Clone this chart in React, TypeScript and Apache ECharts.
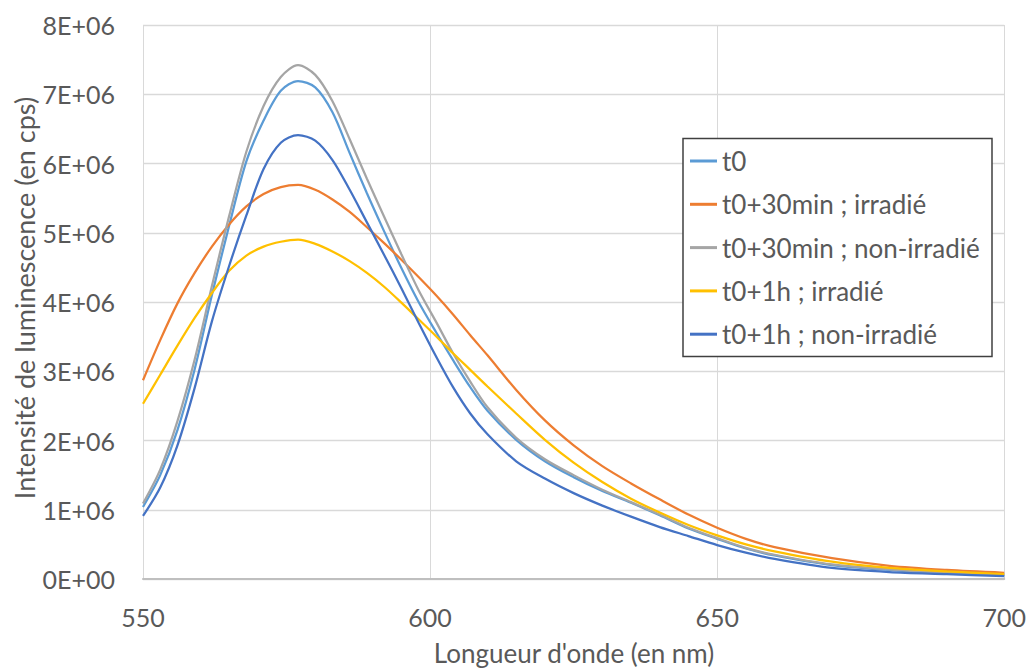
import React, { useEffect, useRef } from "react";
import * as echarts from "echarts";

const wavelengths = [550, 553, 556, 559, 562, 565, 568, 571, 574, 577, 580, 583, 586, 589, 592, 595, 598, 601, 604, 607, 610, 615, 620, 625, 630, 635, 640, 645, 650, 655, 660, 670, 680, 690, 700];

// values in units of 1E+06 cps
const t0 = [1.04, 1.50, 2.15, 3.03, 4.10, 5.10, 6.03, 6.62, 7.05, 7.19, 7.10, 6.74, 6.15, 5.57, 5.02, 4.49, 4.00, 3.57, 3.16, 2.77, 2.43, 2.01, 1.70, 1.47, 1.27, 1.10, 0.92, 0.73, 0.58, 0.44, 0.34, 0.20, 0.13, 0.08, 0.06];
const t30Irr = [2.87, 3.45, 3.98, 4.42, 4.80, 5.12, 5.38, 5.56, 5.66, 5.69, 5.62, 5.48, 5.30, 5.08, 4.85, 4.61, 4.36, 4.10, 3.82, 3.52, 3.23, 2.73, 2.29, 1.93, 1.63, 1.38, 1.15, 0.93, 0.74, 0.58, 0.46, 0.30, 0.19, 0.13, 0.09];
const t30NonIrr = [1.09, 1.58, 2.28, 3.17, 4.23, 5.24, 6.17, 6.83, 7.25, 7.42, 7.28, 6.90, 6.35, 5.78, 5.23, 4.69, 4.17, 3.72, 3.26, 2.85, 2.48, 2.04, 1.73, 1.50, 1.29, 1.11, 0.93, 0.74, 0.59, 0.45, 0.35, 0.21, 0.14, 0.09, 0.06];
const t1hIrr = [2.53, 2.95, 3.37, 3.77, 4.13, 4.45, 4.67, 4.80, 4.87, 4.90, 4.84, 4.73, 4.59, 4.42, 4.22, 3.99, 3.75, 3.51, 3.26, 3.02, 2.78, 2.39, 2.01, 1.68, 1.40, 1.16, 0.96, 0.78, 0.63, 0.50, 0.40, 0.25, 0.16, 0.11, 0.07];
const t1hNonIrr = [0.91, 1.32, 1.93, 2.76, 3.72, 4.52, 5.25, 5.92, 6.30, 6.41, 6.33, 6.05, 5.62, 5.15, 4.68, 4.20, 3.70, 3.22, 2.77, 2.39, 2.09, 1.70, 1.45, 1.24, 1.06, 0.90, 0.75, 0.62, 0.49, 0.38, 0.29, 0.16, 0.10, 0.07, 0.04];

const seriesNames = ["t0", "t0+30min ; irradié", "t0+30min ; non-irradié", "t0+1h ; irradié", "t0+1h ; non-irradié"];
const seriesValues = [t0, t30Irr, t30NonIrr, t1hIrr, t1hNonIrr];
const seriesColors = ["#5B9BD5", "#ED7D31", "#A5A5A5", "#FFC000", "#4472C4"];

const xTitle = "Longueur d'onde (en nm)";
const yTitle = "Intensité de luminescence (en cps)";

const FONT = "Lato, 'Open Sans', sans-serif";
const TXT = "#595959";

export default function App() {
  const ref = useRef<HTMLDivElement>(null);
  useEffect(() => {
    if (!ref.current) return;
    const chart = echarts.init(ref.current, undefined, { renderer: "svg" });
    chart.setOption({
      animation: false,
      backgroundColor: "#ffffff",
      grid: { left: 143, top: 25, right: 24, bottom: 91, containLabel: false },
      xAxis: {
        type: "value",
        min: 550,
        max: 700,
        interval: 50,
        axisLine: { show: true, lineStyle: { color: "#BFBFBF", width: 2 } },
        axisTick: { show: false },
        splitLine: { show: true, lineStyle: { color: "#D9D9D9", width: 1 } },
        axisLabel: { color: TXT, fontFamily: FONT, fontSize: 25, margin: 25 },
      },
      yAxis: {
        type: "value",
        min: 0,
        max: 8,
        interval: 1,
        axisLine: { show: false },
        axisTick: { show: false },
        splitLine: { show: true, lineStyle: { color: "#D9D9D9", width: 1.3 } },
        axisLabel: {
          color: TXT,
          fontFamily: FONT,
          fontSize: 25,
          margin: 28,
          formatter: (v: number) => (v === 0 ? "0E+00" : `${v}E+06`),
        },
      },
      legend: {
        show: true,
        orient: "vertical",
        left: 690,
        top: 148,
        padding: 0,
        itemGap: 17.3,
        itemWidth: 27,
        itemHeight: 3,
        icon: "rect",
        z: 10,
        textStyle: { color: TXT, fontFamily: FONT, fontSize: 26, lineHeight: 26 },
        data: seriesNames,
      },
      graphic: [
        {
          type: "rect",
          z: 5,
          shape: { x: 683, y: 138.5, width: 309, height: 218 },
          style: { fill: "#ffffff", stroke: "#404040", lineWidth: 1.5 },
        },
        {
          type: "text",
          x: 574,
          y: 653,
          style: { text: xTitle, fill: TXT, font: `26px ${FONT}`, textAlign: "center", textVerticalAlign: "middle" },
        },
        {
          type: "text",
          x: 24,
          y: 298,
          rotation: Math.PI / 2,
          style: { text: yTitle, fill: TXT, font: `27px ${FONT}`, textAlign: "center", textVerticalAlign: "middle" },
        },
      ],
      series: seriesNames.map((name, i) => ({
        name,
        type: "line",
        data: wavelengths.map((w, j) => [w, seriesValues[i][j]]),
        showSymbol: false,
        symbol: "none",
        smooth: 0.3,
        lineStyle: { color: seriesColors[i], width: 2.25 },
        itemStyle: { color: seriesColors[i] },
        z: 2 + i,
      })),
    });
    return () => chart.dispose();
  }, []);
  return <div ref={ref} style={{ position: "fixed", left: 0, top: 0, width: 1029, height: 670 }} />;
}
